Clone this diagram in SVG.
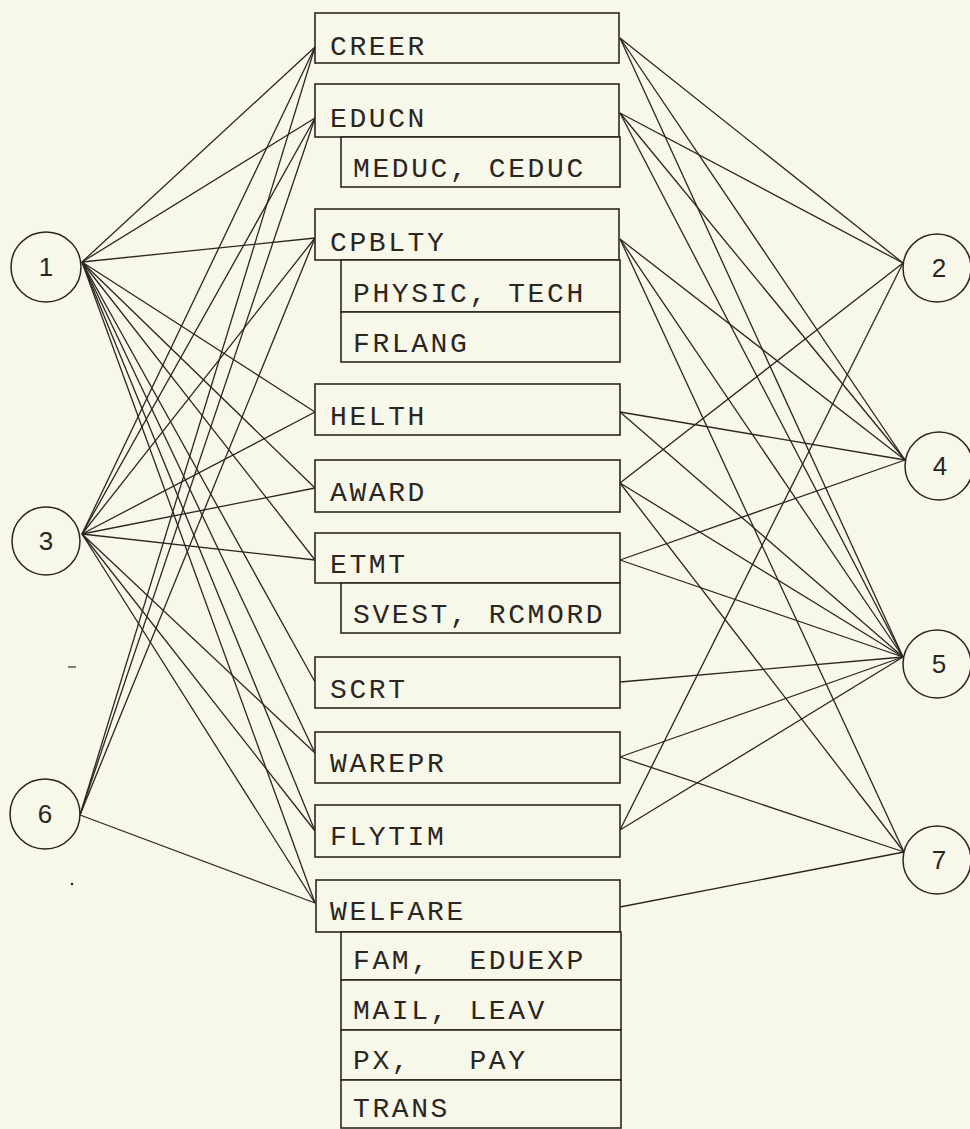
<svg xmlns="http://www.w3.org/2000/svg" width="970" height="1129" viewBox="0 0 970 1129">
<style>
.bg{fill:#f7f7ea}
.box{fill:#f7f7ea;stroke:#2b2622;stroke-width:1.6}
.lbl{font-family:"Liberation Mono","Courier New",monospace;font-size:28px;letter-spacing:2.6px;fill:#2b2622}
.circ{fill:none;stroke:#2b2622;stroke-width:1.5}
.num{font-family:"Liberation Sans",Arial,sans-serif;font-size:26px;fill:#2b2622;text-anchor:middle}
.conn line{stroke:#2b2622;stroke-width:1.3}
</style>
<rect class="bg" x="0" y="0" width="970" height="1129"/>
<g id="connectors" class="conn">
<!-- circle 1 -->
<line x1="82" y1="262" x2="315" y2="47"/>
<line x1="82" y1="262" x2="315" y2="118"/>
<line x1="82" y1="262" x2="315" y2="238"/>
<line x1="82" y1="262" x2="315" y2="412"/>
<line x1="82" y1="262" x2="315" y2="488"/>
<line x1="82" y1="262" x2="315" y2="560"/>
<line x1="82" y1="262" x2="315" y2="682"/>
<line x1="82" y1="262" x2="315" y2="753"/>
<line x1="82" y1="262" x2="315" y2="831"/>
<line x1="82" y1="262" x2="315" y2="903"/>
<!-- circle 3 -->
<line x1="82" y1="534" x2="315" y2="47"/>
<line x1="82" y1="534" x2="315" y2="118"/>
<line x1="82" y1="534" x2="315" y2="238"/>
<line x1="82" y1="534" x2="315" y2="412"/>
<line x1="82" y1="534" x2="315" y2="488"/>
<line x1="82" y1="534" x2="315" y2="560"/>
<line x1="82" y1="534" x2="315" y2="753"/>
<line x1="82" y1="534" x2="315" y2="831"/>
<line x1="82" y1="534" x2="315" y2="903"/>
<!-- circle 6 -->
<line x1="80" y1="815" x2="315" y2="47"/>
<line x1="80" y1="815" x2="315" y2="118"/>
<line x1="80" y1="815" x2="315" y2="238"/>
<line x1="80" y1="815" x2="315" y2="903"/>
<!-- circle 2 -->
<line x1="903" y1="263" x2="620" y2="38"/>
<line x1="903" y1="263" x2="620" y2="113"/>
<line x1="903" y1="263" x2="620" y2="483"/>
<line x1="903" y1="263" x2="620" y2="830"/>
<!-- circle 4 -->
<line x1="905" y1="460" x2="620" y2="38"/>
<line x1="905" y1="460" x2="620" y2="113"/>
<line x1="905" y1="460" x2="620" y2="239"/>
<line x1="905" y1="460" x2="620" y2="412"/>
<line x1="905" y1="460" x2="620" y2="560"/>
<!-- circle 5 -->
<line x1="903" y1="657" x2="620" y2="38"/>
<line x1="903" y1="657" x2="620" y2="113"/>
<line x1="903" y1="657" x2="620" y2="239"/>
<line x1="903" y1="657" x2="620" y2="412"/>
<line x1="903" y1="657" x2="620" y2="483"/>
<line x1="903" y1="657" x2="620" y2="560"/>
<line x1="903" y1="657" x2="620" y2="682"/>
<line x1="903" y1="657" x2="620" y2="757"/>
<line x1="903" y1="657" x2="620" y2="830"/>
<!-- circle 7 -->
<line x1="904" y1="852" x2="620" y2="239"/>
<line x1="904" y1="852" x2="620" y2="483"/>
<line x1="904" y1="852" x2="620" y2="757"/>
<line x1="904" y1="852" x2="620" y2="907"/>
</g>
<g id="n1"><circle class="circ" cx="46" cy="267" r="35"/><text class="num" x="46" y="276">1</text></g>
<g id="n3"><circle class="circ" cx="46" cy="541" r="34"/><text class="num" x="46" y="550">3</text></g>
<g id="n6"><circle class="circ" cx="45" cy="814" r="35"/><text class="num" x="45" y="823">6</text></g>
<g id="n2"><circle class="circ" cx="937" cy="268" r="34"/><text class="num" x="939" y="277">2</text></g>
<g id="n4"><circle class="circ" cx="939" cy="466" r="34"/><text class="num" x="940" y="475">4</text></g>
<g id="n5"><circle class="circ" cx="937" cy="664" r="34"/><text class="num" x="939" y="673">5</text></g>
<g id="n7"><circle class="circ" cx="937" cy="860" r="34"/><text class="num" x="939" y="869">7</text></g>
<g id="creer"><rect class="box" x="315" y="13" width="304" height="50"/><text class="lbl" x="330" y="55">CREER</text></g>
<g id="educn"><rect class="box" x="315" y="84" width="304" height="53"/><text class="lbl" x="330" y="127">EDUCN</text>
<rect class="box" x="341" y="137" width="279" height="50"/><text class="lbl" x="353" y="177" xml:space="preserve">MEDUC, CEDUC</text></g>
<g id="cpblty"><rect class="box" x="315" y="209" width="304" height="51"/><text class="lbl" x="330" y="251">CPBLTY</text>
<rect class="box" x="341" y="260" width="279" height="52"/><text class="lbl" x="353" y="302" xml:space="preserve">PHYSIC, TECH</text>
<rect class="box" x="341" y="312" width="279" height="50"/><text class="lbl" x="353" y="352">FRLANG</text></g>
<g id="helth"><rect class="box" x="315" y="384" width="305" height="51"/><text class="lbl" x="330" y="425">HELTH</text></g>
<g id="award"><rect class="box" x="315" y="460" width="305" height="52"/><text class="lbl" x="330" y="501">AWARD</text></g>
<g id="etmt"><rect class="box" x="315" y="533" width="305" height="50"/><text class="lbl" x="330" y="573">ETMT</text>
<rect class="box" x="341" y="583" width="279" height="50"/><text class="lbl" x="353" y="623" xml:space="preserve">SVEST, RCMORD</text></g>
<g id="scrt"><rect class="box" x="315" y="657" width="305" height="51"/><text class="lbl" x="330" y="698">SCRT</text></g>
<g id="warepr"><rect class="box" x="315" y="732" width="305" height="51"/><text class="lbl" x="330" y="772">WAREPR</text></g>
<g id="flytim"><rect class="box" x="315" y="805" width="305" height="52"/><text class="lbl" x="330" y="845">FLYTIM</text></g>
<g id="welfare"><rect class="box" x="316" y="880" width="304" height="52"/><text class="lbl" x="330" y="920">WELFARE</text>
<rect class="box" x="341" y="932" width="280" height="48"/><text class="lbl" x="353" y="969" xml:space="preserve">FAM,  EDUEXP</text>
<rect class="box" x="341" y="980" width="280" height="50"/><text class="lbl" x="353" y="1019" xml:space="preserve">MAIL, LEAV</text>
<rect class="box" x="341" y="1030" width="280" height="50"/><text class="lbl" x="353" y="1069" xml:space="preserve">PX,   PAY</text>
<rect class="box" x="341" y="1080" width="280" height="48"/><text class="lbl" x="353" y="1117">TRANS</text></g>
<line x1="68" y1="667" x2="76" y2="667" stroke="#2b2622" stroke-width="1.2"/>
<circle cx="72" cy="884" r="1.3" fill="#2b2622"/>
</svg>
